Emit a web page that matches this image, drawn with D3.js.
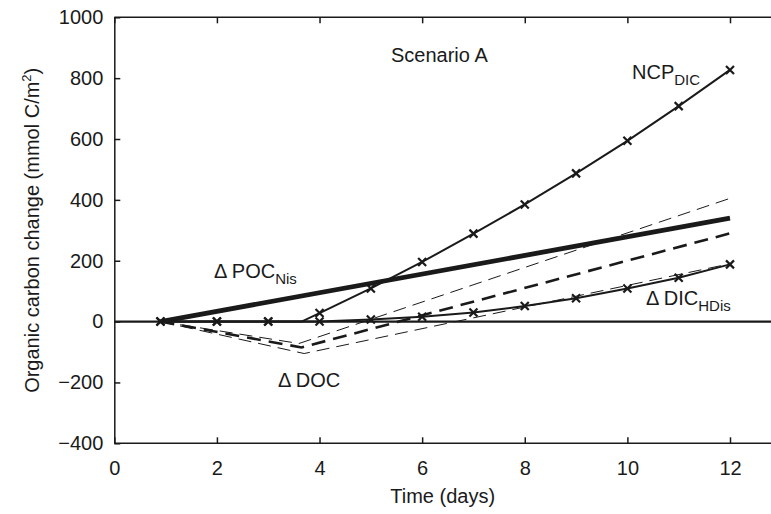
<!DOCTYPE html>
<html>
<head>
<meta charset="utf-8">
<script src="https://cdn.jsdelivr.net/npm/d3@7/dist/d3.min.js"></script>
<style>
  body { margin: 0; background: #fff; }
  svg { display: block; font-family: "Liberation Sans", Arial, sans-serif; }
</style>
</head>
<body>
<div class="chart"></div>
<script>
// sample days (model output points)
const sampleDays = [0.9, 2, 3, 4, 5, 6, 7, 8, 9, 10, 11, 12];

// NCP_DIC (solid with markers), starts rising near day 3.65
const ncpDays = [0.9, 2, 3, 3.65, 4, 5, 6, 7, 8, 9, 10, 11, 12];
const ncpValues = [0, 0, 0, 0, 28, 109, 196, 289, 385, 487, 594, 708, 827];

// ΔDIC_HDis (solid with markers)
const dicValues = [0, 0, 0, 0, 7, 16, 30, 51, 77, 109, 144, 188];

// ΔPOC_Nis (thick solid)
const pocDays = [0.9, 12];
const pocValues = [0, 340];

// ΔDOC (thick dashed) and its two bounds (thin dashed)
const docDays = [0.9, 3.65, 12];
const docValues = [0, -85, 290];
const docHighDays = [0.9, 3.6, 12];
const docHighValues = [0, -72, 405];
const docLowDays = [0.9, 3.7, 12];
const docLowValues = [0, -105, 190];

const xTicks = [0, 2, 4, 6, 8, 10, 12];
const yTicks = [-400, -200, 0, 200, 400, 600, 800, 1000];

const W = 771, H = 514;
const svg = d3.select('.chart').append('svg')
  .attr('width', W)
  .attr('height', H);

const x = d3.scaleLinear().domain([0, 12]).range([114.3, 730]);
const y = d3.scaleLinear().domain([-400, 1000]).range([443.3, 17.3]);
const xMax = 12.9;

const ink = '#1a1a1a';

// axes
const yAxis = d3.axisLeft(y).tickValues(yTicks).tickSizeInner(-6).tickSizeOuter(0).tickPadding(11)
  .tickFormat(d => d < 0 ? '\u2212' + Math.abs(d) : d);
const xAxis = d3.axisBottom(x).tickValues(xTicks).tickSizeInner(-6).tickSizeOuter(0).tickPadding(18);
const xTop = d3.axisTop(x).tickValues(xTicks).tickSizeInner(-6).tickSizeOuter(0).tickFormat('');

const gy = svg.append('g').attr('transform', `translate(${x(0)},0)`).call(yAxis);
const gx = svg.append('g').attr('transform', `translate(0,${y(-400)})`).call(xAxis);
const gt = svg.append('g').attr('transform', `translate(0,${y(1000)})`).call(xTop);

// stretch domains to the right edge
gx.select('.domain').attr('d', `M${x(0)},0H${x(xMax)}`);
gt.select('.domain').attr('d', `M${x(0)},0H${x(xMax)}`);

[gy, gx, gt].forEach(g => {
  g.selectAll('.domain, .tick line').attr('stroke', ink).attr('stroke-width', 1.5);
  g.selectAll('text').attr('font-size', 20).attr('fill', ink)
    .attr('font-family', '"Liberation Sans", Arial, sans-serif');
});

// zero line
svg.append('line')
  .attr('x1', x(0)).attr('x2', x(xMax))
  .attr('y1', y(0)).attr('y2', y(0))
  .attr('stroke', ink).attr('stroke-width', 2.2);

const line = d3.line().x(d => x(d[0])).y(d => y(d[1]));
const zip = (a, b) => a.map((d, i) => [d, b[i]]);

const series = [
  {pts: zip(docHighDays, docHighValues), w: 1, dash: '13,7'},
  {pts: zip(docLowDays, docLowValues), w: 1, dash: '13,7'},
  {pts: zip(docDays, docValues), w: 2.6, dash: '14,8'},
  {pts: zip(pocDays, pocValues), w: 4.8, dash: null},
  {pts: zip(ncpDays, ncpValues), w: 2, dash: null},
  {pts: zip(sampleDays, dicValues), w: 2, dash: null}
];

svg.append('g').selectAll('path')
  .data(series)
  .enter().append('path')
  .attr('d', d => line(d.pts))
  .attr('fill', 'none')
  .attr('stroke', ink)
  .attr('stroke-width', d => d.w)
  .attr('stroke-dasharray', d => d.dash);

// x markers
const ncpMarks = zip(ncpDays, ncpValues).filter(d => sampleDays.includes(d[0]));
const dicMarks = zip(sampleDays, dicValues);
const s = 4;
svg.append('g').selectAll('path')
  .data(ncpMarks.concat(dicMarks))
  .enter().append('path')
  .attr('d', d => {
    const cx = x(d[0]), cy = y(d[1]);
    return `M${cx - s},${cy - s}L${cx + s},${cy + s}M${cx - s},${cy + s}L${cx + s},${cy - s}`;
  })
  .attr('stroke', ink)
  .attr('stroke-width', 2.2);

// labels
const font = 20, sub = 15;
const label = (px, py, main, subText) => {
  const t = svg.append('text')
    .attr('x', px).attr('y', py)
    .attr('font-size', font).attr('fill', ink);
  t.append('tspan').text(main);
  if (subText) t.append('tspan').attr('font-size', sub).attr('dy', 6).text(subText);
};
label(391, 62, 'Scenario A');
label(632, 79, 'NCP', 'DIC');
label(214, 278, '\u0394 POC', 'Nis');
label(646, 305, '\u0394 DIC', 'HDis');
label(278, 387, '\u0394 DOC');

// axis titles
svg.append('text')
  .attr('x', x(6.4)).attr('y', 503)
  .attr('text-anchor', 'middle')
  .attr('font-size', font).attr('fill', ink)
  .text('Time (days)');

const yl = svg.append('text')
  .attr('transform', `translate(39,${(y(1000) + y(-400)) / 2}) rotate(-90)`)
  .attr('text-anchor', 'middle')
  .attr('font-size', font).attr('fill', ink);
yl.append('tspan').text('Organic carbon change (mmol C/m');
yl.append('tspan').attr('font-size', 13).attr('dy', -8).text('2');
yl.append('tspan').attr('dy', 8).text(')');
</script>
</body>
</html>
